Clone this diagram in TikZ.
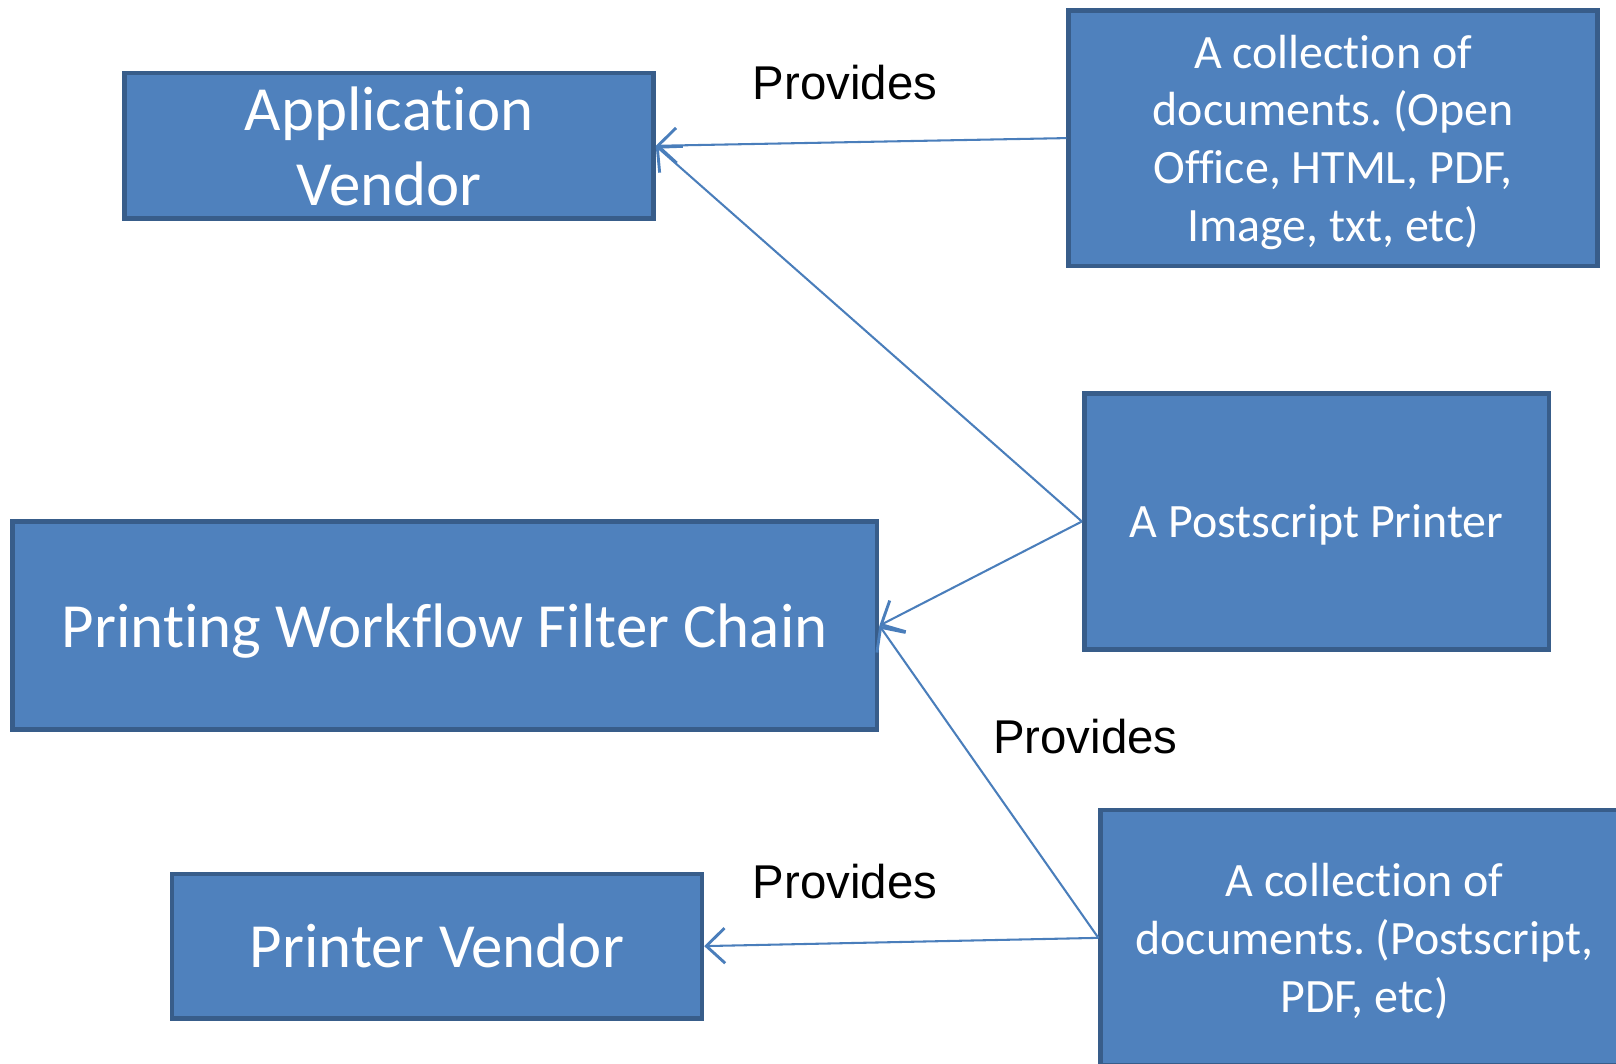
\documentclass[tikz,border=0pt]{standalone}
\usepackage{fontspec}
\newfontfamily\boxfont[Ligatures=NoCommon]{Carlito}
\newfontfamily\labfont{Liberation Sans}
\usetikzlibrary{arrows.meta}
\definecolor{boxfill}{HTML}{4F81BD}
\definecolor{boxline}{HTML}{385D8A}
\definecolor{conn}{HTML}{4A7EBB}
\frenchspacing
\begin{document}
\begin{tikzpicture}[x=1pt,y=-1pt,
  box/.style={draw=boxline, line width=4.5pt, fill=boxfill, text=white, align=center, inner sep=0pt, rectangle, text depth=0pt},
  bigtext/.style={font=\boxfont\fontsize{61}{73}\selectfont},
  smalltext/.style={font=\boxfont\fontsize{46.5}{56}\selectfont},
  lab/.style={font=\labfont\fontsize{46}{55}\selectfont, inner sep=0pt},
  conn/.style={draw=conn, line width=2pt, -{Straight Barb[length=18pt,width=34pt,line width=2.8pt]}}]
\path[use as bounding box] (0,0) rectangle (1568,1032);
\node[box,bigtext,minimum width=513pt,minimum height=141pt] (av) at (377.5,141.5) {Application\\Vendor};
\node[box,smalltext,minimum width=513pt,minimum height=248pt] (oo) at (1293.5,134) {A collection of\\documents. (Open\\Office, HTML, PDF,\\Image, txt, etc)};
\node[box,smalltext,minimum width=451pt,minimum height=248pt] (pp) at (1277.5,506) {A Postscript Printer};
\node[box,bigtext,minimum width=839pt,minimum height=202pt] (pw) at (431.5,607) {Printing Workflow Filter Chain};
\node[box,bigtext,minimum width=514pt,minimum height=140pt] (pv) at (424,918) {Printer Vendor};
\node[box,smalltext,minimum width=512pt,minimum height=248pt] (pd) at (1324,910) {A collection of\\documents. (Postscript,\\PDF, etc)};
\node[lab] (l1) at (820,80) {Provides};
\node[lab] (l2) at (1053,715) {Provides};
\node[lab] (l3) at (820,855) {Provides};
\draw[conn] (oo.west) -- (av.east);
\draw[conn] (pp.west) -- (av.east);
\draw[conn] (pp.west) -- (pw.east);
\draw[conn] (pd.west) -- (pw.east);
\draw[conn] (pd.west) -- (pv.east);
\end{tikzpicture}
\end{document}
